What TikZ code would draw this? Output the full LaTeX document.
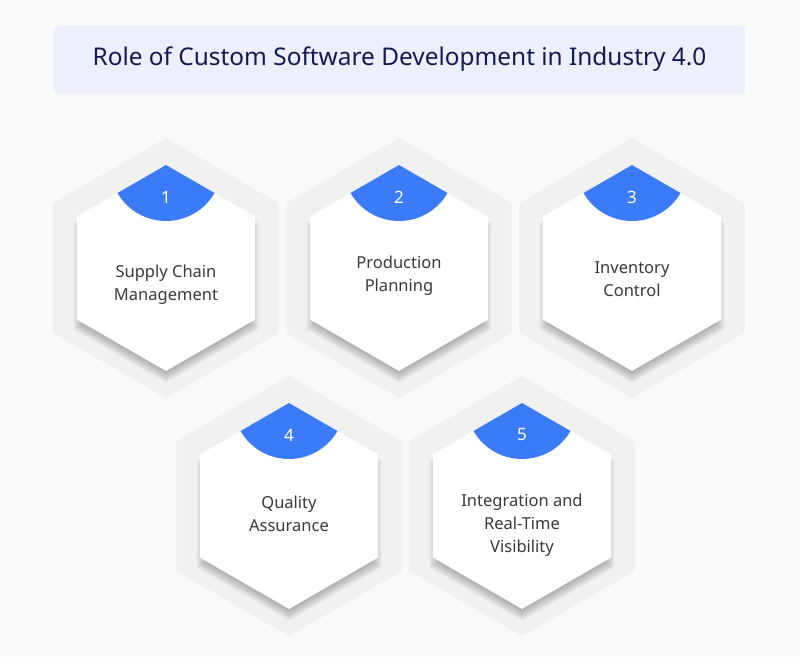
\documentclass[tikz,border=0pt]{standalone}
\usepackage{fontspec}
\setmainfont{Noto Sans}
\definecolor{bg}{HTML}{FAFAFA}
\definecolor{outerhexc}{HTML}{F1F1F1}
\definecolor{badgec}{HTML}{3B7BF7}
\definecolor{titlebg}{HTML}{EDF0FC}
\definecolor{titlefg}{HTML}{141B52}
\definecolor{bodyc}{HTML}{3A3A3A}
\tikzset{
  hexouter/.style={fill=outerhexc},
  hexinner/.style={fill=white},
  hexshade/.style={fill=black, fill opacity=0.022},
  badge/.style={fill=badgec},
  numtext/.style={text=white, font=\fontsize{17}{20}\selectfont, inner sep=0pt},
  bodytext/.style={text=bodyc, font=\fontsize{16.5}{23}\selectfont, align=center, inner sep=0pt},
  titlebox/.style={fill=titlebg, rounded corners=3pt, minimum width=691pt, minimum height=67pt, text=titlefg, font=\fontsize{24.4}{28}\selectfont}
}
\newcommand\hexpath[3]{(#1,#2) +(90:#3) -- +(150:#3) -- +(210:#3) -- +(270:#3) -- +(330:#3) -- +(30:#3) -- cycle}
\newcommand\hexcard[6]{%
  \fill[hexouter] \hexpath{#2}{-#3}{130};
  \foreach \k in {0,...,11}{\fill[hexshade] \hexpath{#2}{-#3-8}{96+\k};}
  \fill[hexinner] \hexpath{#2}{-#3}{103};
  \fill[badge] (#2,-#3+103) -- ++(210:56) arc[start angle=210,end angle=330,radius=56] -- cycle;
  \node[numtext] (num#1) at (#2,-#3+71) {#5};
  \node[bodytext] (lbl#1) at (#2,-#4-2) {#6};
}
\begin{document}
\begin{tikzpicture}[x=1pt,y=1pt]
\useasboundingbox[fill=bg] (0,0) rectangle (800,-657);
\node[titlebox] (title) at (399.5,-59.5) {Role of Custom Software Development in Industry 4.0};
\hexcard{a}{166}{268}{282.5}{1}{Supply Chain\\Management}
\hexcard{b}{399}{268}{273.5}{2}{Production\\Planning}
\hexcard{c}{632}{268}{277.5}{3}{Inventory\\Control}
\hexcard{d}{289}{506}{511.5}{4}{Quality\\Assurance}
\hexcard{e}{522}{506}{523}{5}{Integration and\\Real-Time\\Visibility}
\end{tikzpicture}
\end{document}
